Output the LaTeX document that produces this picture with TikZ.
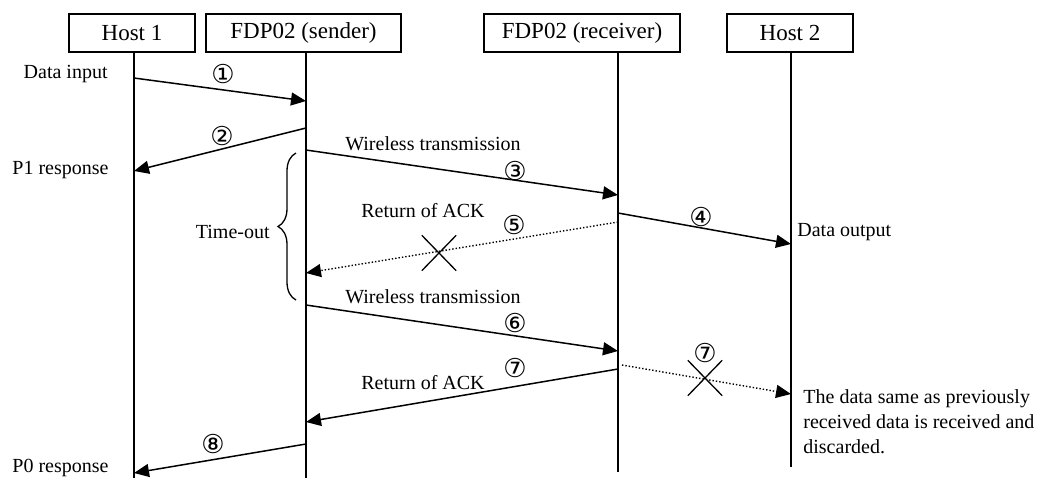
\documentclass[tikz,border=0pt]{standalone}
\usepackage{fontspec}
\setmainfont{Liberation Serif}
\newfontfamily\circfont{DejaVu Sans}
\usetikzlibrary{arrows.meta,decorations.pathreplacing,shapes.misc}

\tikzset{
  head/.style={draw, line width=0.7pt, minimum height=19pt, inner sep=0pt, font=\fontsize{11.5}{13}\selectfont},
  life/.style={line width=0.75pt},
  msg/.style={line width=0.75pt, -{Triangle[length=7.5pt,width=6.5pt]}},
  lost/.style={line width=0.7pt, densely dotted, -{Triangle[length=7.5pt,width=6.5pt]}},
  num/.style={font=\circfont\fontsize{13}{15}\selectfont, inner sep=0pt},
  lbl/.style={font=\fontsize{10}{12.5}\selectfont, inner sep=0pt},
  lostmark/.style={draw, cross out, line width=0.65pt, minimum width=16.5pt, minimum height=17pt, inner sep=0pt}
}

\begin{document}
\begin{tikzpicture}[x=0.5pt,y=-0.5pt]
\useasboundingbox (0,0) rectangle (1051,478);
% heads
\node (h1) [head, minimum width=63pt] at (132,33) {Host 1};
\node (snd) [head, minimum width=97.5pt] at (303.5,33) {FDP02 (sender)};
\node (rcv) [head, minimum width=98pt] at (582,33) {FDP02 (receiver)};
\node (h2) [head, minimum width=63pt] at (790,33) {Host 2};
% lifelines
\coordinate (h1top) at (134,52);
\coordinate (h1bot) at (134,478);
\coordinate (sndtop) at (306,52);
\coordinate (sndbot) at (306,478);
\coordinate (rcvtop) at (618,52);
\coordinate (rcvbot) at (618,472);
\coordinate (h2top) at (791,52);
\coordinate (h2bot) at (791,467);
\draw [life] (h1top) -- (h1bot);
\draw [life] (sndtop) -- (sndbot);
\draw [life] (rcvtop) -- (rcvbot);
\draw [life] (h2top) -- (h2bot);
% message ends
\coordinate (m1a) at (134,78);
\coordinate (m1b) at (306,101);
\coordinate (m2a) at (306,128);
\coordinate (m2b) at (134,171);
\coordinate (m3a) at (306,150);
\coordinate (m3b) at (618,195);
\coordinate (m4a) at (618,213);
\coordinate (m4b) at (791,244);
\coordinate (m5a) at (618,222);
\coordinate (m5b) at (306,273);
\coordinate (m6a) at (306,305);
\coordinate (m6b) at (618,351);
\coordinate (m7a) at (618,369);
\coordinate (m7b) at (306,422);
\coordinate (m7ca) at (622,365);
\coordinate (m7cb) at (791,394);
\coordinate (m8a) at (306,444);
\coordinate (m8b) at (134,473);
% messages
\draw [msg] (m1a) -- (m1b);
\draw [msg] (m2a) -- (m2b);
\draw [msg] (m3a) -- (m3b);
\draw [msg] (m4a) -- (m4b);
\draw [lost] (m5a) -- (m5b);
\draw [msg] (m6a) -- (m6b);
\draw [msg] (m7a) -- (m7b);
\draw [lost] (m7ca) -- (m7cb);
\draw [msg] (m8a) -- (m8b);
% lost marks
\node (x5) [lostmark] at (439,253) {};
\node (x7) [lostmark] at (705,378) {};
% numbers
\node (n1) [num] at (223,74) {①};
\node (n2) [num] at (222,136) {②};
\node (n3) [num] at (515,171) {③};
\node (n4) [num] at (701,217) {④};
\node (n5) [num] at (514,225) {⑤};
\node (n6) [num] at (515,323) {⑥};
\node (n7) [num] at (515,368) {⑦};
\node (n7c) [num] at (705,353) {⑦};
\node (n8) [num] at (213,444) {⑧};
% texts
\node (din) [lbl, anchor=east] at (108,74) {Data input};
\node (p1) [lbl, anchor=west] at (12,170) {P1 response};
\node (p0) [lbl, anchor=west] at (12,468) {P0 response};
\node (dout) [lbl, anchor=west] at (797,232) {Data output};
\node (wt1) [lbl] at (433,144) {Wireless transmission};
\node (wt2) [lbl] at (433,297) {Wireless transmission};
\node (ack1) [lbl] at (423,211) {Return of ACK};
\node (ack2) [lbl] at (423,383) {Return of ACK};
\node (disc) [lbl, anchor=west, align=left] at (803,422) {The data same as previously\\received data is received and\\discarded.};
% time-out brace
\coordinate (tob) at (296,300);
\coordinate (tot) at (296,153);
\draw [line width=0.65pt, decorate, decoration={brace, amplitude=9pt}] (tob) -- (tot);
\node (tout) [lbl, anchor=east] at (270,232) {Time-out};
\end{tikzpicture}
\end{document}
